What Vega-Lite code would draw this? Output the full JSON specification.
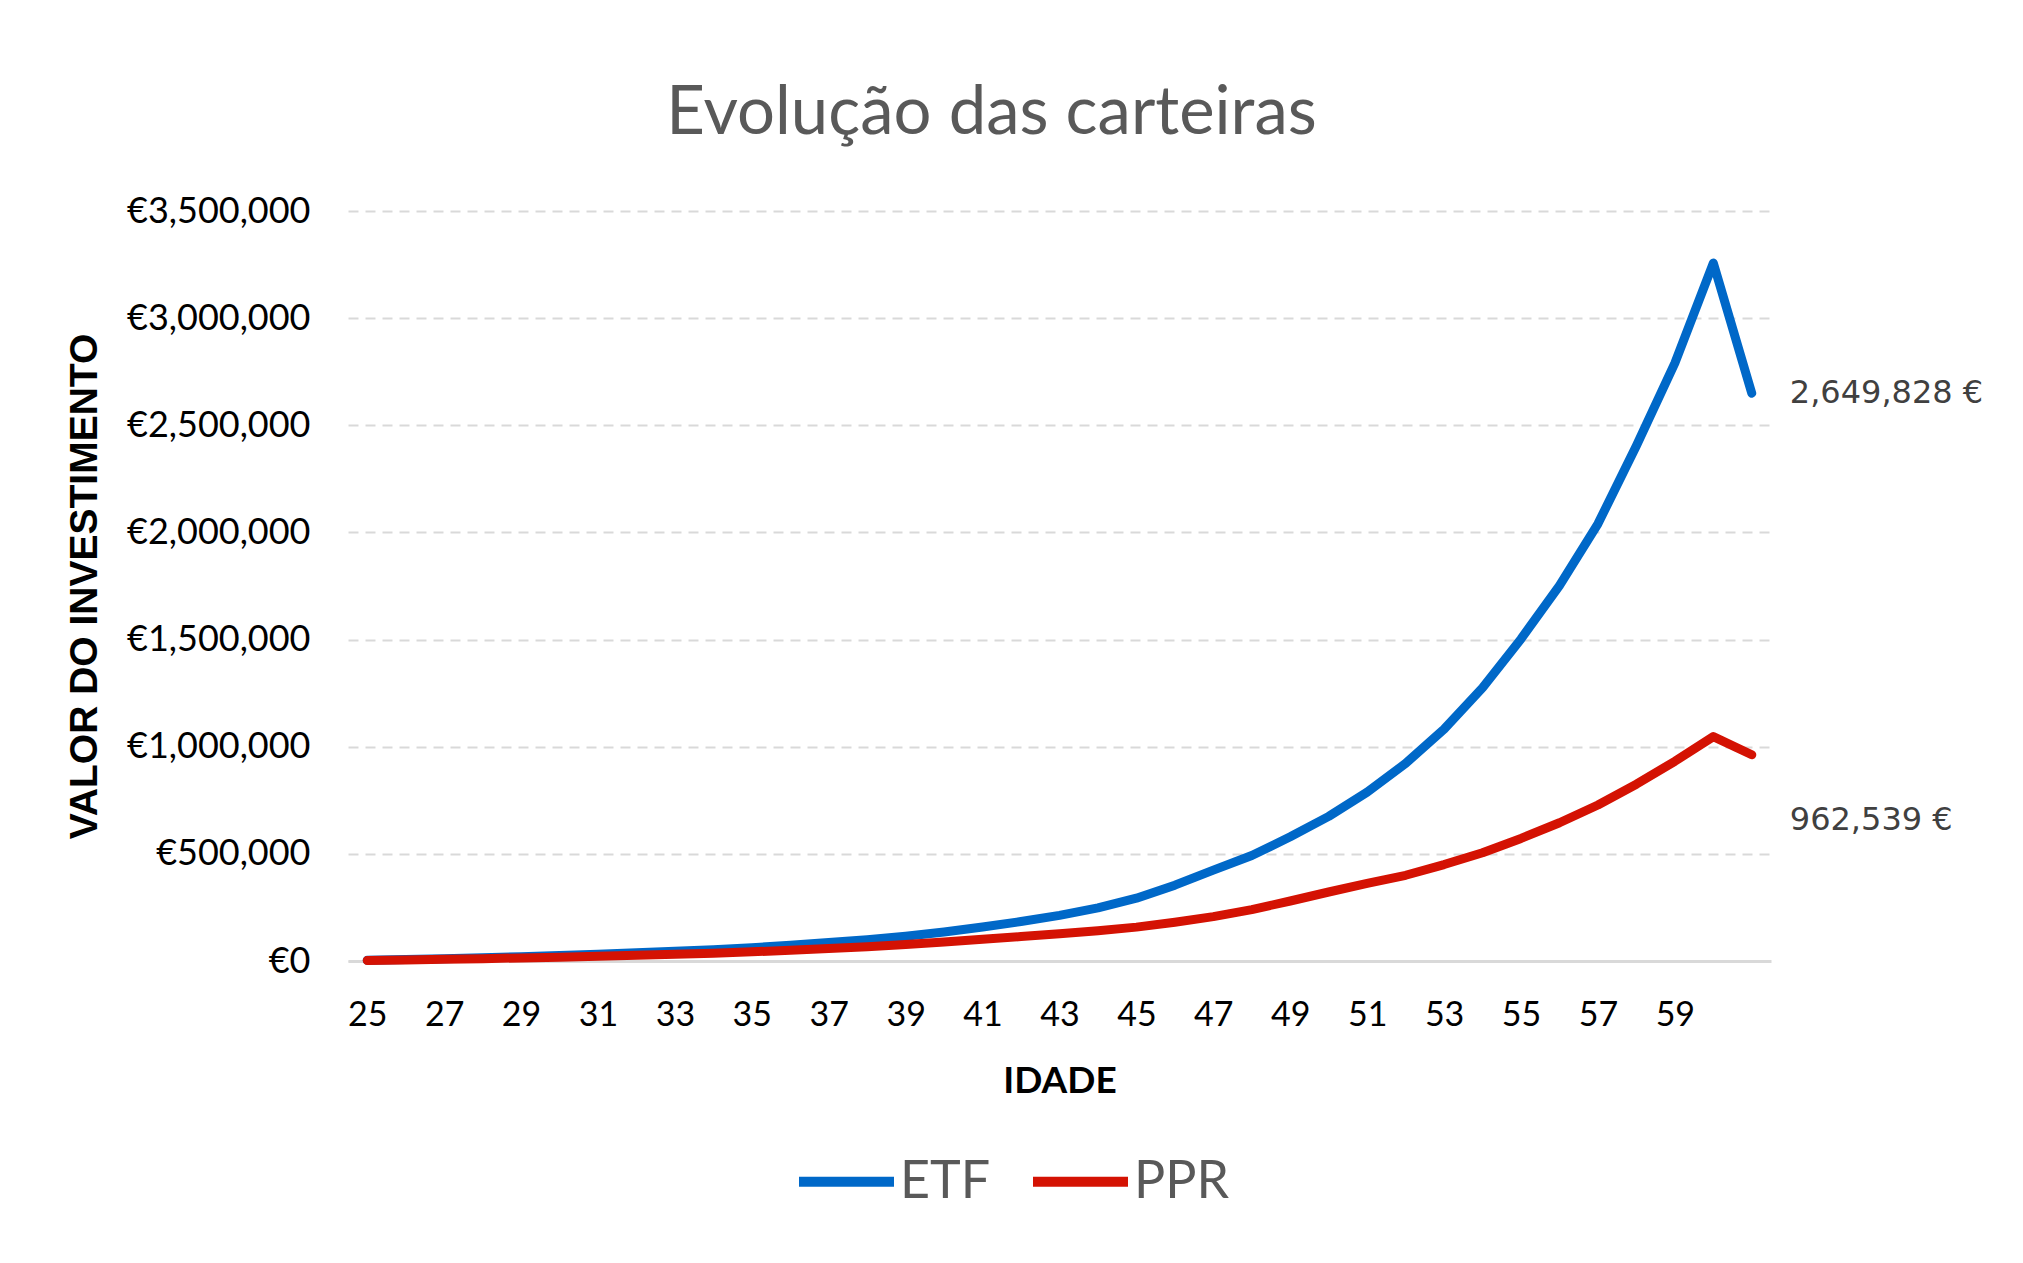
{
  "$schema": "https://vega.github.io/schema/vega-lite/v6.json",
  "width": 1423,
  "height": 750,
  "autosize": {"type": "none"},
  "padding": {"left": 348, "top": 211, "right": 252, "bottom": 302},
  "background": "white",
  "title": {
    "text": "Evolução das carteiras",
    "font": "Lato",
    "fontSize": 67,
    "fontWeight": "normal",
    "color": "#595959",
    "anchor": "middle",
    "frame": "group",
    "dx": -68,
    "offset": 45
  },
  "data": {
    "values": [
      {"idade": 25, "carteira": "ETF", "valor": 3000},
      {"idade": 26, "carteira": "ETF", "valor": 6500},
      {"idade": 27, "carteira": "ETF", "valor": 10500},
      {"idade": 28, "carteira": "ETF", "valor": 15000},
      {"idade": 29, "carteira": "ETF", "valor": 20000},
      {"idade": 30, "carteira": "ETF", "valor": 25500},
      {"idade": 31, "carteira": "ETF", "valor": 31500},
      {"idade": 32, "carteira": "ETF", "valor": 38000},
      {"idade": 33, "carteira": "ETF", "valor": 45000},
      {"idade": 34, "carteira": "ETF", "valor": 53000},
      {"idade": 35, "carteira": "ETF", "valor": 62000},
      {"idade": 36, "carteira": "ETF", "valor": 73000},
      {"idade": 37, "carteira": "ETF", "valor": 86000},
      {"idade": 38, "carteira": "ETF", "valor": 99000},
      {"idade": 39, "carteira": "ETF", "valor": 115000},
      {"idade": 40, "carteira": "ETF", "valor": 135000},
      {"idade": 41, "carteira": "ETF", "valor": 159000},
      {"idade": 42, "carteira": "ETF", "valor": 184000},
      {"idade": 43, "carteira": "ETF", "valor": 213000},
      {"idade": 44, "carteira": "ETF", "valor": 248000},
      {"idade": 45, "carteira": "ETF", "valor": 293000},
      {"idade": 46, "carteira": "ETF", "valor": 354000},
      {"idade": 47, "carteira": "ETF", "valor": 424000},
      {"idade": 48, "carteira": "ETF", "valor": 492000},
      {"idade": 49, "carteira": "ETF", "valor": 580000},
      {"idade": 50, "carteira": "ETF", "valor": 675000},
      {"idade": 51, "carteira": "ETF", "valor": 788000},
      {"idade": 52, "carteira": "ETF", "valor": 922000},
      {"idade": 53, "carteira": "ETF", "valor": 1082000},
      {"idade": 54, "carteira": "ETF", "valor": 1275000},
      {"idade": 55, "carteira": "ETF", "valor": 1503000},
      {"idade": 56, "carteira": "ETF", "valor": 1752000},
      {"idade": 57, "carteira": "ETF", "valor": 2040000},
      {"idade": 58, "carteira": "ETF", "valor": 2405000},
      {"idade": 59, "carteira": "ETF", "valor": 2790000},
      {"idade": 60, "carteira": "ETF", "valor": 3257000},
      {"idade": 61, "carteira": "ETF", "valor": 2649828},
      {"idade": 25, "carteira": "PPR", "valor": 2500},
      {"idade": 26, "carteira": "PPR", "valor": 5000},
      {"idade": 27, "carteira": "PPR", "valor": 8000},
      {"idade": 28, "carteira": "PPR", "valor": 11000},
      {"idade": 29, "carteira": "PPR", "valor": 14500},
      {"idade": 30, "carteira": "PPR", "valor": 18000},
      {"idade": 31, "carteira": "PPR", "valor": 22500},
      {"idade": 32, "carteira": "PPR", "valor": 27000},
      {"idade": 33, "carteira": "PPR", "valor": 31500},
      {"idade": 34, "carteira": "PPR", "valor": 36500},
      {"idade": 35, "carteira": "PPR", "valor": 43000},
      {"idade": 36, "carteira": "PPR", "valor": 50000},
      {"idade": 37, "carteira": "PPR", "valor": 58000},
      {"idade": 38, "carteira": "PPR", "valor": 66000},
      {"idade": 39, "carteira": "PPR", "valor": 77000},
      {"idade": 40, "carteira": "PPR", "valor": 89000},
      {"idade": 41, "carteira": "PPR", "valor": 101000},
      {"idade": 42, "carteira": "PPR", "valor": 114000},
      {"idade": 43, "carteira": "PPR", "valor": 127000},
      {"idade": 44, "carteira": "PPR", "valor": 141000},
      {"idade": 45, "carteira": "PPR", "valor": 158000},
      {"idade": 46, "carteira": "PPR", "valor": 181000},
      {"idade": 47, "carteira": "PPR", "valor": 207000},
      {"idade": 48, "carteira": "PPR", "valor": 240000},
      {"idade": 49, "carteira": "PPR", "valor": 280000},
      {"idade": 50, "carteira": "PPR", "valor": 322000},
      {"idade": 51, "carteira": "PPR", "valor": 362000},
      {"idade": 52, "carteira": "PPR", "valor": 400000},
      {"idade": 53, "carteira": "PPR", "valor": 450000},
      {"idade": 54, "carteira": "PPR", "valor": 505000},
      {"idade": 55, "carteira": "PPR", "valor": 572000},
      {"idade": 56, "carteira": "PPR", "valor": 645000},
      {"idade": 57, "carteira": "PPR", "valor": 728000},
      {"idade": 58, "carteira": "PPR", "valor": 825000},
      {"idade": 59, "carteira": "PPR", "valor": 932000},
      {"idade": 60, "carteira": "PPR", "valor": 1047000},
      {"idade": 61, "carteira": "PPR", "valor": 962539}
    ]
  },
  "encoding": {
    "x": {
      "field": "idade",
      "type": "ordinal",
      "scale": {"type": "point", "padding": 0.5},
      "axis": {
        "title": "IDADE",
        "values": [25, 27, 29, 31, 33, 35, 37, 39, 41, 43, 45, 47, 49, 51, 53, 55, 57, 59],
        "labelAngle": 0,
        "labelFont": "Lato",
        "labelFontSize": 34,
        "labelColor": "#000000",
        "labelPadding": 37,
        "ticks": false,
        "domainColor": "#d9d9d9",
        "domainWidth": 3,
        "grid": false,
        "titleFont": "Lato",
        "titleFontSize": 37,
        "titleFontWeight": "bold",
        "titleColor": "#000000",
        "titlePadding": 31
      }
    },
    "y": {
      "field": "valor",
      "type": "quantitative",
      "scale": {"domain": [0, 3500000], "nice": false},
      "axis": {
        "title": "VALOR DO INVESTIMENTO",
        "values": [0, 500000, 1000000, 1500000, 2000000, 2500000, 3000000, 3500000],
        "labelExpr": "'€' + format(datum.value, ',')",
        "labelFont": "Lato",
        "labelFontSize": 36,
        "labelColor": "#000000",
        "labelPadding": 38,
        "labelLimit": 0,
        "ticks": false,
        "domain": false,
        "grid": true,
        "gridColor": "#d9d9d9",
        "gridWidth": 2,
        "gridDash": [10, 7],
        "titleFont": "Liberation Sans",
        "titleFontSize": 39,
        "titleFontWeight": "bold",
        "titleColor": "#000000",
        "titleX": -264,
        "titleY": 375,
        "titleBaseline": "middle",
        "titleAlign": "center",
        "titleAngle": -90
      }
    }
  },
  "layer": [
    {
      "mark": {"type": "line", "strokeWidth": 9, "strokeCap": "round", "strokeJoin": "round"},
      "encoding": {
        "color": {
          "field": "carteira",
          "type": "nominal",
          "scale": {"domain": ["ETF", "PPR"], "range": ["#0068c8", "#d41203"]},
          "legend": {
            "title": null,
            "orient": "none",
            "direction": "horizontal",
            "legendX": 446,
            "legendY": 918,
            "symbolType": "stroke",
            "symbolSize": 9025,
            "symbolStrokeWidth": 10,
            "labelFont": "Lato",
            "labelFontSize": 52,
            "labelColor": "#595959",
            "labelOffset": 1,
            "columnPadding": 22
          }
        }
      }
    },
    {
      "transform": [
        {"filter": "datum.idade == 61 && datum.carteira == 'ETF'"},
        {"calculate": "format(datum.valor, ',') + ' €'", "as": "rotulo"}
      ],
      "mark": {"type": "text", "align": "left", "baseline": "middle", "dx": 38, "font": "DejaVu Sans", "fontSize": 32, "color": "#404040"},
      "encoding": {"text": {"field": "rotulo"}}
    },
    {
      "transform": [
        {"filter": "datum.idade == 61 && datum.carteira == 'PPR'"},
        {"calculate": "format(datum.valor, ',') + ' €'", "as": "rotulo"}
      ],
      "mark": {"type": "text", "align": "left", "baseline": "middle", "dx": 38, "dy": 65, "font": "DejaVu Sans", "fontSize": 32, "color": "#404040"},
      "encoding": {"text": {"field": "rotulo"}}
    }
  ],
  "config": {
    "view": {"stroke": null}
  }
}
